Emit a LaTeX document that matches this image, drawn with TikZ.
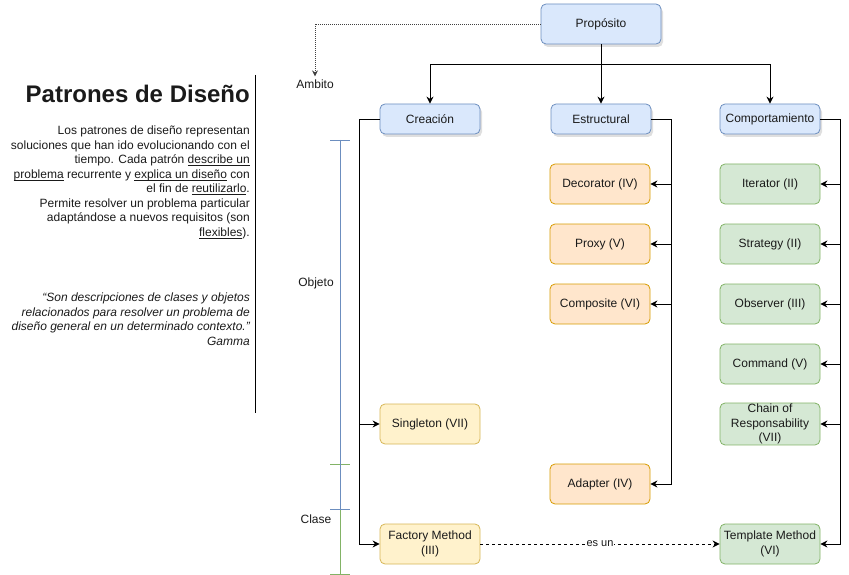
\documentclass[tikz,border=0pt]{standalone}
\usepackage{fontspec}
\setmainfont{Liberation Sans}
\usetikzlibrary{arrows.meta,shadows,calc}
\definecolor{bfill}{HTML}{DAE8FC}\definecolor{bline}{HTML}{6C8EBF}
\definecolor{ofill}{HTML}{FFE6CC}\definecolor{oline}{HTML}{D79B00}
\definecolor{gfill}{HTML}{D5E8D4}\definecolor{gline}{HTML}{82B366}
\definecolor{yfill}{HTML}{FFF2CC}\definecolor{yline}{HTML}{D6B656}
\definecolor{txt}{HTML}{1A1A1A}
\newcommand{\ulin}[1]{\underline{\smash{#1}}}
\tikzset{
  box/.style={draw, rounded corners=5pt, minimum width=100pt, minimum height=40pt,
    inner sep=1pt, align=center, line width=0.8pt, text=txt,
    font=\fontsize{12}{14.4}\selectfont},
  bluebox/.style={box, fill=bfill, draw=bline, minimum height=30pt,
    drop shadow={shadow xshift=2pt, shadow yshift=-3pt, opacity=0.25}},
  orangebox/.style={box, fill=ofill, draw=oline},
  greenbox/.style={box, fill=gfill, draw=gline},
  yellowbox/.style={box, fill=yfill, draw=yline},
  lbl/.style={text=txt, inner sep=0pt, font=\fontsize{12}{14.4}\selectfont},
  arr/.style={line width=0.9pt, -{Stealth[length=7pt,width=7pt]}},
  brk/.style={line width=0.8pt},
}
\begin{document}
\begin{tikzpicture}[x=1pt,y=-1pt]
\useasboundingbox (0,0) rectangle (849,575);
% left panel
\node[anchor=base east, inner sep=0pt, text=txt, font=\fontsize{24}{28}\selectfont\bfseries] (title) at (250,103) {Patrones de Diseño};
\node[anchor=north east, inner sep=0pt, align=right, text=txt, font=\fontsize{12}{14.5}\selectfont] (desc) at (250,126) {Los patrones de diseño representan\\
soluciones que han ido evolucionando con el\\
tiempo. Cada patrón \ulin{describe un}\\
\ulin{problema} recurrente y \ulin{explica un diseño} con\\
el fin de \ulin{reutilizarlo}.\\
Permite resolver un problema particular\\
adaptándose a nuevos requisitos (son\\
\ulin{flexibles}).};
\node[anchor=north east, inner sep=0pt, align=right, text=txt, font=\fontsize{12}{14.5}\selectfont\itshape] (quote) at (250,293) {“Son descripciones de clases y objetos\\
relacionados para resolver un problema de\\
diseño general en un determinado contexto.”\\
Gamma};
\coordinate (sepTop) at (255,75);
\coordinate (sepBot) at (255,413);
\draw[line width=0.9pt] (sepTop) -- (sepBot);

% top level
\node[bluebox, minimum width=120pt, minimum height=40pt] (prop) at (601,24) {Propósito};
\node[bluebox] (cre) at (430,119) {Creación};
\node[bluebox] (est) at (601,119) {Estructural};
\node[bluebox] (comp) at (770,119) {Comportamiento};

% structural
\node[orangebox] (deco) at (600,184) {Decorator (IV)};
\node[orangebox] (proxy) at (600,244) {Proxy (V)};
\node[orangebox] (compo) at (600,304) {Composite (VI)};
\node[orangebox] (adap) at (600,484) {Adapter (IV)};

% behavioural
\node[greenbox] (iter) at (770,184) {Iterator (II)};
\node[greenbox] (strat) at (770,244) {Strategy (II)};
\node[greenbox] (obs) at (770,304) {Observer (III)};
\node[greenbox] (cmd) at (770,364) {Command (V)};
\node[greenbox] (chain) at (770,424) {Chain of\\Responsability\\(VII)};
\node[greenbox] (tmpl) at (770,544) {Template Method\\(VI)};

% creational
\node[yellowbox] (single) at (430,424) {Singleton (VII)};
\node[yellowbox] (fact) at (430,544) {Factory Method\\(III)};

% labels
\node[lbl] (amb) at (315,84) {Ambito};
\node[lbl] (obj) at (316,283) {Objeto};
\node[lbl] (cla) at (316,519) {Clase};

% connectors from Propósito
\draw[arr] (prop.south) -- (prop.south |- est.north);
\draw[arr] (prop.south) -- ++(0,20) -| (cre.north);
\draw[arr] (prop.south) -- ++(0,20) -| (comp.north);
\draw[line width=0.8pt, draw=black!75, dash pattern=on 1pt off 1pt, -{Stealth[length=6pt,width=6pt]}] (prop.west) -| ($(amb.north)+(0,-3)$);

% creational links
\draw[arr] (cre.west) -- ++(-20,0) |- (single.west);
\draw[arr] (cre.west) -- ++(-20,0) |- (fact.west);

% structural links
\foreach \t in {deco,proxy,compo,adap}
  \draw[arr] (est.east) -- ++(20,0) |- (\t.east);

% behavioural links
\foreach \t in {iter,strat,obs,cmd,chain,tmpl}
  \draw[arr] (comp.east) -- ++(20,0) |- (\t.east);

% es un
\draw[arr, dash pattern=on 3pt off 3pt] (fact.east) -- node[fill=white, inner sep=1pt, text=txt, font=\fontsize{11}{13}\selectfont] (esun) {es un} (tmpl.west);

% brackets
\coordinate (gT) at (340,464); \coordinate (gB) at (340,574);
\draw[brk, gline] (gT) -- (gB);
\draw[brk, gline] ($(gT)+(-10,0)$) -- ($(gT)+(10,0)$);
\draw[brk, gline] ($(gB)+(-10,0)$) -- ($(gB)+(10,0)$);
\coordinate (bT) at (340,140); \coordinate (bB) at (340,509);
\draw[brk, bline] (bT) -- (bB);
\draw[brk, bline] ($(bT)+(-10,0)$) -- ($(bT)+(10,0)$);
\draw[brk, bline] ($(bB)+(-10,0)$) -- ($(bB)+(10,0)$);
\end{tikzpicture}
\end{document}
